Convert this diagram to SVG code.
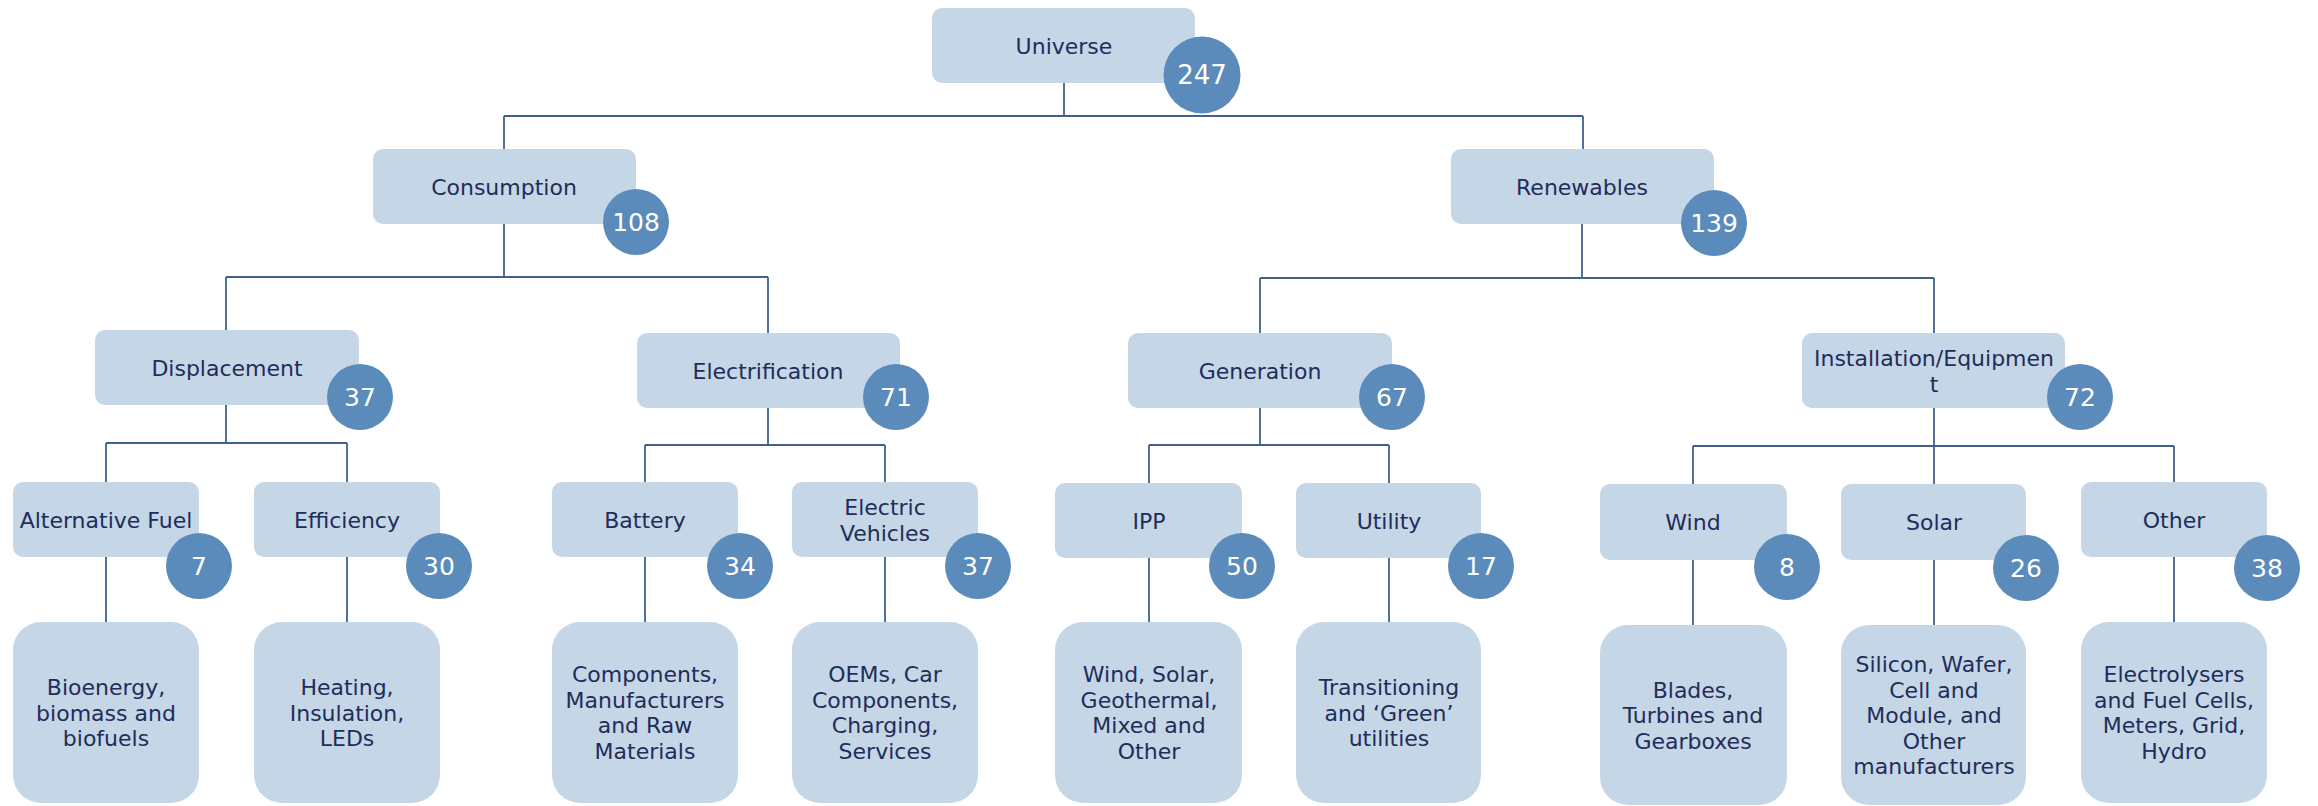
<svg xmlns="http://www.w3.org/2000/svg" width="2318" height="806" viewBox="0 0 2318 806">
<style>
.box{fill:#C5D6E6}
.badge{fill:#5B8BBB}
.t{font-family:"DejaVu Sans","Liberation Sans",sans-serif;font-size:22px;fill:#1F2D5A;text-anchor:middle}
.n{font-family:"DejaVu Sans","Liberation Sans",sans-serif;font-size:25px;fill:#FFFFFF;text-anchor:middle}
.c{fill:none;stroke:#41618A;stroke-width:1.8}
</style>
<rect width="2318" height="806" fill="#FFFFFF"/>
<g id="connectors" class="c">
<path d="M1064 83V116M504 116H1583M504 116V149M1583 116V149"/>
<path d="M504 224V277M226 277H768M226 277V330M768 277V333"/>
<path d="M1582 224V278M1260 278H1934M1260 278V333M1934 278V333"/>
<path d="M226 405V443M106 443H347M106 443V482M347 443V482"/>
<path d="M768 408V445M645 445H885M645 445V482M885 445V482"/>
<path d="M1260 408V445M1149 445H1389M1149 445V483M1389 445V483"/>
<path d="M1934 408V484M1693 446H2174M1693 446V484M2174 446V482"/>
<path d="M106 557V622M347 557V622M645 557V622M885 557V622M1149 558V622M1389 558V622M1693 560V625M1934 560V625M2174 557V622"/>
</g>
<g id="universe"><rect class="box" x="932" y="8" width="263" height="75" rx="10"/><text class="t" x="1064" y="54">Universe</text><circle class="badge" cx="1202" cy="75" r="38.5"/><text class="n" x="1202" y="84" style="font-size:26px">247</text></g>
<g id="consumption"><rect class="box" x="373" y="149" width="263" height="75" rx="10"/><text class="t" x="504" y="195">Consumption</text><circle class="badge" cx="636" cy="222" r="33"/><text class="n" x="636" y="231">108</text></g>
<g id="renewables"><rect class="box" x="1451" y="149" width="263" height="75" rx="10"/><text class="t" x="1582" y="195">Renewables</text><circle class="badge" cx="1714" cy="223" r="33"/><text class="n" x="1714" y="232">139</text></g>
<g id="displacement"><rect class="box" x="95" y="330" width="264" height="75" rx="10"/><text class="t" x="227" y="376">Displacement</text><circle class="badge" cx="360" cy="397" r="33"/><text class="n" x="360" y="406">37</text></g>
<g id="electrification"><rect class="box" x="637" y="333" width="263" height="75" rx="10"/><text class="t" x="768" y="379">Electrification</text><circle class="badge" cx="896" cy="397" r="33"/><text class="n" x="896" y="406">71</text></g>
<g id="generation"><rect class="box" x="1128" y="333" width="264" height="75" rx="10"/><text class="t" x="1260" y="379">Generation</text><circle class="badge" cx="1392" cy="397" r="33"/><text class="n" x="1392" y="406">67</text></g>
<g id="installation"><rect class="box" x="1802" y="333" width="263" height="75" rx="10"/><text class="t" x="1934" y="366">Installation/Equipmen</text><text class="t" x="1934" y="392">t</text><circle class="badge" cx="2080" cy="397" r="33"/><text class="n" x="2080" y="406">72</text></g>
<g id="alternative-fuel"><rect class="box" x="13" y="482" width="186" height="75" rx="10"/><text class="t" x="106" y="528">Alternative Fuel</text><circle class="badge" cx="199" cy="566" r="33"/><text class="n" x="199" y="575">7</text></g>
<g id="efficiency"><rect class="box" x="254" y="482" width="186" height="75" rx="10"/><text class="t" x="347" y="528">Efficiency</text><circle class="badge" cx="439" cy="566" r="33"/><text class="n" x="439" y="575">30</text></g>
<g id="battery"><rect class="box" x="552" y="482" width="186" height="75" rx="10"/><text class="t" x="645" y="528">Battery</text><circle class="badge" cx="740" cy="566" r="33"/><text class="n" x="740" y="575">34</text></g>
<g id="electric-vehicles"><rect class="box" x="792" y="482" width="186" height="75" rx="10"/><text class="t" x="885" y="515">Electric</text><text class="t" x="885" y="541">Vehicles</text><circle class="badge" cx="978" cy="566" r="33"/><text class="n" x="978" y="575">37</text></g>
<g id="ipp"><rect class="box" x="1055" y="483" width="187" height="75" rx="10"/><text class="t" x="1149" y="529">IPP</text><circle class="badge" cx="1242" cy="566" r="33"/><text class="n" x="1242" y="575">50</text></g>
<g id="utility"><rect class="box" x="1296" y="483" width="185" height="75" rx="10"/><text class="t" x="1389" y="529">Utility</text><circle class="badge" cx="1481" cy="566" r="33"/><text class="n" x="1481" y="575">17</text></g>
<g id="wind"><rect class="box" x="1600" y="484" width="187" height="76" rx="10"/><text class="t" x="1693" y="530">Wind</text><circle class="badge" cx="1787" cy="567" r="33"/><text class="n" x="1787" y="576">8</text></g>
<g id="solar"><rect class="box" x="1841" y="484" width="185" height="76" rx="10"/><text class="t" x="1934" y="530">Solar</text><circle class="badge" cx="2026" cy="568" r="33"/><text class="n" x="2026" y="577">26</text></g>
<g id="other"><rect class="box" x="2081" y="482" width="186" height="75" rx="10"/><text class="t" x="2174" y="528">Other</text><circle class="badge" cx="2267" cy="568" r="33"/><text class="n" x="2267" y="577">38</text></g>
<g id="leaf-bioenergy"><rect class="box" x="13" y="622" width="186" height="181" rx="28"/><text class="t" x="106" y="695">Bioenergy,</text><text class="t" x="106" y="720.5">biomass and</text><text class="t" x="106" y="746">biofuels</text></g>
<g id="leaf-heating"><rect class="box" x="254" y="622" width="186" height="181" rx="28"/><text class="t" x="347" y="695">Heating,</text><text class="t" x="347" y="720.5">Insulation,</text><text class="t" x="347" y="746">LEDs</text></g>
<g id="leaf-components"><rect class="box" x="552" y="622" width="186" height="181" rx="28"/><text class="t" x="645" y="682">Components,</text><text class="t" x="645" y="708">Manufacturers</text><text class="t" x="645" y="733">and Raw</text><text class="t" x="645" y="759">Materials</text></g>
<g id="leaf-oems"><rect class="box" x="792" y="622" width="186" height="181" rx="28"/><text class="t" x="885" y="682">OEMs, Car</text><text class="t" x="885" y="708">Components,</text><text class="t" x="885" y="733">Charging,</text><text class="t" x="885" y="759">Services</text></g>
<g id="leaf-ipp"><rect class="box" x="1055" y="622" width="187" height="181" rx="28"/><text class="t" x="1149" y="682">Wind, Solar,</text><text class="t" x="1149" y="708">Geothermal,</text><text class="t" x="1149" y="733">Mixed and</text><text class="t" x="1149" y="759">Other</text></g>
<g id="leaf-utility"><rect class="box" x="1296" y="622" width="185" height="181" rx="28"/><text class="t" x="1389" y="695">Transitioning</text><text class="t" x="1389" y="720.5">and ‘Green’</text><text class="t" x="1389" y="746">utilities</text></g>
<g id="leaf-wind"><rect class="box" x="1600" y="625" width="187" height="180" rx="28"/><text class="t" x="1693" y="697.5">Blades,</text><text class="t" x="1693" y="723">Turbines and</text><text class="t" x="1693" y="748.5">Gearboxes</text></g>
<g id="leaf-solar"><rect class="box" x="1841" y="625" width="185" height="180" rx="28"/><text class="t" x="1934" y="672">Silicon, Wafer,</text><text class="t" x="1934" y="697.5">Cell and</text><text class="t" x="1934" y="723">Module, and</text><text class="t" x="1934" y="748.5">Other</text><text class="t" x="1934" y="774">manufacturers</text></g>
<g id="leaf-other"><rect class="box" x="2081" y="622" width="186" height="181" rx="28"/><text class="t" x="2174" y="682">Electrolysers</text><text class="t" x="2174" y="708">and Fuel Cells,</text><text class="t" x="2174" y="733">Meters, Grid,</text><text class="t" x="2174" y="759">Hydro</text></g>
</svg>
